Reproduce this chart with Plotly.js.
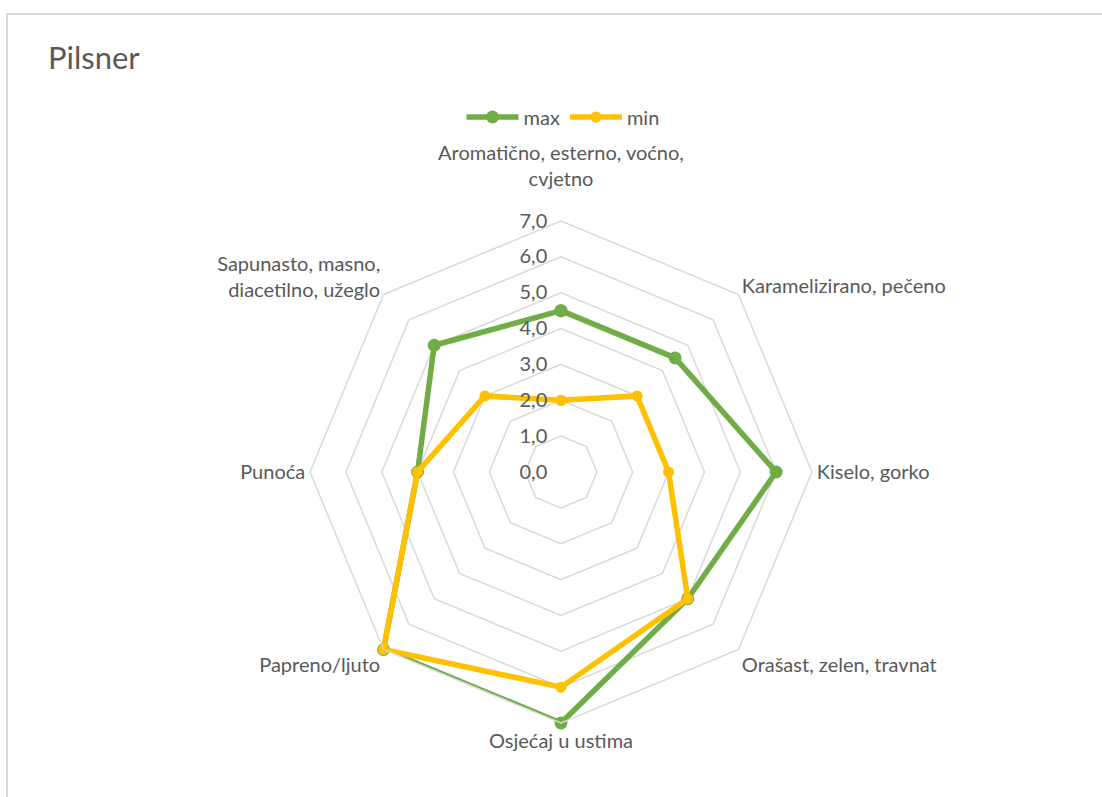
<!DOCTYPE html>
<html>
<head>
<meta charset="utf-8">
<script src="https://cdn.plot.ly/plotly-3.0.1.min.js"></script>
<style>
  html, body { margin: 0; padding: 0; background: #ffffff; overflow: hidden; }
  #frame { position: absolute; left: 6px; top: 13px; width: 1200px; height: 900px;
           border-left: 2px solid #d9d9d9; border-top: 2px solid #d9d9d9; pointer-events: none; }
  #chart { position: absolute; left: 0; top: 0; width: 1102px; height: 797px; }
</style>
</head>
<body>
<div id="chart"></div>
<div id="frame"></div>
<script>
// Categories (clockwise from top)
const categories = [
  "Aromatično, esterno, voćno,<br>cvjetno<br> ",
  "Karamelizirano, pečeno",
  "Kiselo, gorko",
  "Orašast, zelen, travnat",
  "Osjećaj u ustima",
  "Papreno/ljuto",
  "Punoća",
  "Sapunasto, masno,<br>diacetilno, užeglo"
];
// Series values
const maxValues = [4.5, 4.5, 6.0, 5.0, 7.0, 7.0, 4.0, 5.0];
const minValues = [2.0, 3.0, 3.0, 5.0, 6.0, 7.0, 4.0, 3.0];
// Radial tick labels
const radialTickVals = [0, 1, 2, 3, 4, 5, 6, 7];
const radialTickText = ["0,0", "1,0", "2,0", "3,0", "4,0", "5,0", "6,0", "7,0"];

const closeLoop = arr => arr.concat([arr[0]]);

const FONT = "Lato, 'Open Sans', sans-serif";
const GREEN = "#70AD47";
const YELLOW = "#FFC000";
const GRID = "#d9d9d9";
const TEXT = "#595959";

const traces = [
  {
    type: "scatterpolar",
    name: "max",
    r: closeLoop(maxValues),
    theta: closeLoop(categories),
    mode: "lines+markers",
    line: { color: GREEN, width: 5.5 },
    marker: { color: GREEN, size: 13 },
    cliponaxis: false
  },
  {
    type: "scatterpolar",
    name: "min",
    r: closeLoop(minValues),
    theta: closeLoop(categories),
    mode: "lines+markers",
    line: { color: YELLOW, width: 5.5 },
    marker: { color: YELLOW, size: 11 },
    cliponaxis: false
  }
];

const cx = 561, cy = 472, R = 251, W = 1102, H = 797;

const layout = {
  width: W,
  height: H,
  margin: { l: 0, r: 0, t: 0, b: 0 },
  paper_bgcolor: "#ffffff",
  plot_bgcolor: "#ffffff",
  font: { family: FONT, color: TEXT, size: 20 },
  title: {
    text: "Pilsner",
    x: 48 / W, xanchor: "left",
    y: 1 - 58 / H, yanchor: "middle",
    font: { family: FONT, size: 31, color: TEXT }
  },
  showlegend: true,
  legend: {
    orientation: "h",
    x: 563 / W, xanchor: "center",
    y: 1 - 117 / H, yanchor: "middle",
    font: { family: FONT, size: 20, color: TEXT },
    itemwidth: 52,
    tracegroupgap: 0
  },
  polar: {
    domain: {
      x: [(cx - R) / W, (cx + R) / W],
      y: [1 - (cy + R) / H, 1 - (cy - R) / H]
    },
    bgcolor: "#ffffff",
    gridshape: "linear",
    radialaxis: {
      range: [0, 7],
      angle: 90,
      side: "counterclockwise",
      tickmode: "array",
      tickvals: radialTickVals,
      ticktext: radialTickText.map(t => t + "\u00a0\u00a0"),
      showline: false,
      ticks: "",
      gridcolor: GRID,
      gridwidth: 1.5,
      tickfont: { family: FONT, size: 20, color: TEXT },
      tickangle: 90
    },
    angularaxis: {
      type: "category",
      rotation: 90,
      direction: "clockwise",
      showgrid: false,
      showline: true,
      linecolor: GRID,
      linewidth: 1.5,
      ticks: "",
      tickfont: { family: FONT, size: 20, color: TEXT }
    }
  }
};

Plotly.newPlot("chart", traces, layout, { displayModeBar: false, staticPlot: true });
</script>
</body>
</html>
